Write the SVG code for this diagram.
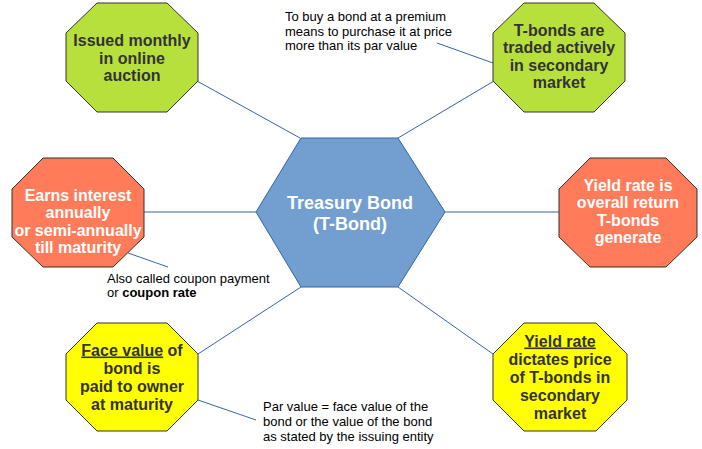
<svg xmlns="http://www.w3.org/2000/svg" width="702" height="449" viewBox="0 0 702 449">
<style>
.bg{fill:#ffffff}
.oct{stroke:#333333;stroke-width:1}
.green{fill:#b8e03d}
.red{fill:#ff7b59}
.yellow{fill:#ffff00}
.hex{fill:#729fcf;stroke:#3465a4;stroke-width:1}
.conn{stroke:#3465a4;stroke-width:1;fill:none}
.bt{font-family:"Liberation Sans",Arial,sans-serif;font-weight:bold;font-size:16px;text-anchor:middle}
.dark{fill:#333333}
.white{fill:#ffffff}
.ht{font-family:"Liberation Sans",Arial,sans-serif;font-weight:bold;font-size:18px;text-anchor:middle;fill:#ffffff}
.note{font-family:"Liberation Sans",Arial,sans-serif;font-size:13px;fill:#000000}
</style>
<rect class="bg" x="0" y="0" width="702" height="449"/>
<g id="connectors">
<line class="conn" x1="197" y1="81" x2="300" y2="138"/>
<line class="conn" x1="494" y1="81" x2="398" y2="138"/>
<line class="conn" x1="437" y1="43" x2="493" y2="63"/>
<line class="conn" x1="144" y1="212" x2="256" y2="212"/>
<line class="conn" x1="445" y1="212" x2="559" y2="212"/>
<line class="conn" x1="128" y1="253" x2="168" y2="267"/>
<line class="conn" x1="301" y1="287" x2="198" y2="354"/>
<line class="conn" x1="398" y1="287" x2="493" y2="354"/>
<line class="conn" x1="198" y1="400" x2="256" y2="420"/>
</g>
<g id="center">
<polygon class="hex" points="301,138 398,138 445,212 398,287 301,287 256,212"/>
<text class="ht" x="350" y="208.5">Treasury Bond</text>
<text class="ht" x="350" y="229.5">(T-Bond)</text>
</g>
<g id="issued">
<polygon class="oct green" points="97,3 167,3 198,33 198,81 167,112 97,112 66,81 66,33"/>
<text class="bt dark" x="132" y="46">Issued monthly</text>
<text class="bt dark" x="132" y="63.5">in online</text>
<text class="bt dark" x="132" y="81">auction</text>
</g>
<g id="traded">
<polygon class="oct green" points="524,3 594,3 625,33 625,81 594,112 524,112 493,81 493,33"/>
<text class="bt dark" x="559" y="35.5">T-bonds are</text>
<text class="bt dark" x="559" y="53">traded actively</text>
<text class="bt dark" x="559" y="70.5">in secondary</text>
<text class="bt dark" x="559" y="88">market</text>
</g>
<g id="earns">
<polygon class="oct red" points="43,158 113,158 144,189 144,237 113,267 43,267 12,237 12,189"/>
<text class="bt white" x="78" y="200.5">Earns interest</text>
<text class="bt white" x="78" y="218">annually</text>
<text class="bt white" x="78" y="235.5">or semi-annually</text>
<text class="bt white" x="78" y="253">till maturity</text>
</g>
<g id="yieldreturn">
<polygon class="oct red" points="590,158 666,158 697,189 697,237 666,267 590,267 559,237 559,189"/>
<text class="bt white" x="628" y="190.5">Yield rate is</text>
<text class="bt white" x="628" y="208">overall return</text>
<text class="bt white" x="628" y="225.5">T-bonds</text>
<text class="bt white" x="628" y="243">generate</text>
</g>
<g id="face">
<polygon class="oct yellow" points="97,323 167,323 198,354 198,400 167,431 97,431 66,400 66,354"/>
<text class="bt dark" x="132" y="355.5"><tspan text-decoration="underline">Face value</tspan> of</text>
<text class="bt dark" x="132" y="373.5">bond is</text>
<text class="bt dark" x="132" y="391.5">paid to owner</text>
<text class="bt dark" x="132" y="409.5">at maturity</text>
</g>
<g id="yieldprice">
<polygon class="oct yellow" points="524,323 596,323 627,354 627,400 596,431 524,431 493,400 493,354"/>
<text class="bt dark" x="560" y="346.5"><tspan text-decoration="underline">Yield rate</tspan></text>
<text class="bt dark" x="560" y="364.5">dictates price</text>
<text class="bt dark" x="560" y="382.5">of T-bonds in</text>
<text class="bt dark" x="560" y="400.5">secondary</text>
<text class="bt dark" x="560" y="418.5">market</text>
</g>
<g id="note-premium">
<text class="note" x="285" y="21">To buy a bond at a premium</text>
<text class="note" x="285" y="35.5">means to purchase it at price</text>
<text class="note" x="285" y="50">more than its par value</text>
</g>
<g id="note-coupon">
<text class="note" x="107" y="283">Also called coupon payment</text>
<text class="note" x="107" y="297">or <tspan font-weight="bold">coupon rate</tspan></text>
</g>
<g id="note-par">
<text class="note" x="263" y="411">Par value = face value of the</text>
<text class="note" x="263" y="426">bond or the value of the bond</text>
<text class="note" x="263" y="441">as stated by the issuing entity</text>
</g>
</svg>
